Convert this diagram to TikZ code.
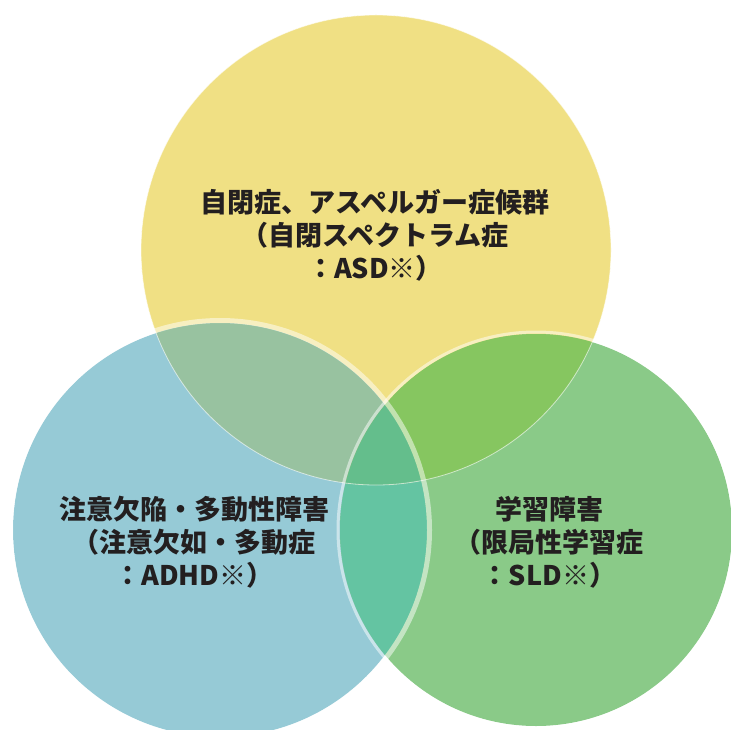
\documentclass[tikz,border=0pt]{standalone}
\usepackage{fontspec}
\newfontfamily\jpfont{Noto Sans CJK JP}
\usetikzlibrary{calc}
\definecolor{asdyellow}{HTML}{F0E084}
\definecolor{adhdblue}{HTML}{96CAD6}
\definecolor{sldgreen}{HTML}{8ACA88}
\definecolor{asdadhd}{HTML}{98C2A0}
\definecolor{asdsld}{HTML}{86C660}
\definecolor{adhdsld}{HTML}{64C4A2}
\definecolor{allthree}{HTML}{64BE8C}
\definecolor{inkdark}{HTML}{231F20}
\tikzset{
	venntext/.style={font=\jpfont\bfseries\fontsize{13.5}{16.5}\selectfont, text=inkdark, align=center, inner sep=0pt},
	rim/.style={draw=white, draw opacity=0.5, line width=2.5pt}
}

\begin{document}
\begin{tikzpicture}[x=0.5pt, y=0.5pt]
			%%%%% START %%%%%
			
			\clip (0, 0) rectangle (731, 729);
			
			\coordinate (asd) at (376, 479);
			\coordinate (adhd) at (220, 199);
			\coordinate (sld) at (536, 199);
			
			\fill[asdyellow] (asd) circle (235);
			\fill[adhdblue] (adhd) circle (207);
			\fill[sldgreen] (sld) circle (196);
			
			\begin{scope}
				\clip (adhd) circle (207);
				\fill[adhdsld] (sld) circle (196);
			\end{scope}
			\begin{scope}
				\clip (asd) circle (235);
				\fill[asdadhd] (adhd) circle (207);
				\fill[asdsld] (sld) circle (196);
				\clip (adhd) circle (207);
				\fill[allthree] (sld) circle (196);
			\end{scope}
			
			\draw[rim] (adhd) circle (209.5);
			\draw[rim, line width=1.5pt] (sld) circle (198);
			\draw[draw=white, draw opacity=0.6, line width=0.4pt] (asd) circle (235);
			
			\node[venntext] (asdtext) at (375, 494) {自閉症、アスペルガー症候群\\（自閉スペクトラム症\\：ASD※）};
			\node[venntext] (adhdtext) at (194, 187) {注意欠陥・多動性障害\\（注意欠如・多動症\\：ADHD※）};
			\node[venntext] (sldtext) at (549, 187) {学習障害\\（限局性学習症\\：SLD※）};
			
			%%%%% END %%%%%
\end{tikzpicture}
\end{document}
